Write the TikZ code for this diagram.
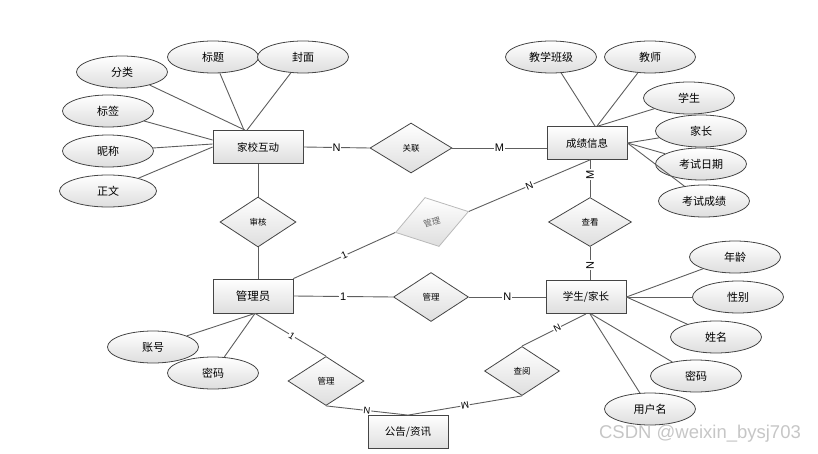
\documentclass[tikz,border=0pt]{standalone}
\usepackage{fontspec}
\newfontfamily\cjk{Noto Sans CJK SC}
\newfontfamily\lab{Liberation Sans}
\usetikzlibrary{shapes.geometric,calc}
\definecolor{linec}{HTML}{5E5E5E}
\definecolor{edgec}{HTML}{454545}
\definecolor{shadec}{HTML}{DEDEDE}
\begin{document}
\begin{tikzpicture}[x=1pt,y=-1pt,
 attr/.style={ellipse,draw=edgec,line width=0.8pt,top color=white,bottom color=shadec,minimum width=91pt,minimum height=32pt,inner sep=0pt,font=\cjk\fontsize{11}{13}\selectfont},
 ent/.style={rectangle,draw=edgec,line width=0.8pt,top color=white,bottom color=shadec,minimum width=80pt,minimum height=33pt,inner sep=0pt,font=\cjk\fontsize{10.5}{12}\selectfont},
 rel/.style={diamond,draw=edgec,line width=0.8pt,top color=white,bottom color=shadec,minimum width=75pt,minimum height=49pt,inner sep=0pt,font=\cjk\fontsize{8.5}{10}\selectfont},
 conn/.style={draw=linec,line width=0.9pt},
 lbl/.style={fill=white,inner sep=0.8pt,font=\lab\fontsize{11}{12}\selectfont,text=black},
 slbl/.style={lbl,font=\lab\fontsize{9.5}{10}\selectfont}
]
\useasboundingbox (0,0) rectangle (818,454);

% entities
\node[ent,minimum width=90pt] (jx) at (258,147) {家校互动};
\node[ent] (cj) at (587,143) {成绩信息};
\node[ent,minimum height=34pt,font=\cjk\fontsize{11.5}{13}\selectfont] (gly) at (253,296) {管理员};
\node[ent] (xs) at (586,297) {学生/家长};
\node[ent] (gg) at (408,432) {公告/资讯};

% attributes of 家校互动
\node[attr] (fl) at (122,72) {分类};
\node[attr] (bt) at (213,57) {标题};
\node[attr] (fm) at (303,57) {封面};
\node[attr] (bq) at (108,111) {标签};
\node[attr] (nc) at (108,151) {昵称};
\node[attr,minimum width=97pt] (zw) at (108,191) {正文};

% attributes of 成绩信息
\node[attr] (bj) at (551,57) {教学班级};
\node[attr] (js) at (650,57) {教师};
\node[attr] (xsh) at (689,98) {学生};
\node[attr] (jz) at (701,131) {家长};
\node[attr] (rq) at (701,164) {考试日期};
\node[attr] (cc) at (704,201) {考试成绩};

% attributes of 学生/家长
\node[attr] (nl) at (735,257) {年龄};
\node[attr] (xb) at (738,297) {性别};
\node[attr] (xm) at (716,337) {姓名};
\node[attr] (mm2) at (696,376) {密码};
\node[attr] (yh) at (650,409) {用户名};

% attributes of 管理员
\node[attr] (zh) at (153,347) {账号};
\node[attr] (mm1) at (213,373) {密码};

% relationships
\node[rel,minimum width=82pt,minimum height=50pt] (gl) at (411,148) {关联};
\node[rel,minimum width=76pt,minimum height=50pt] (shh) at (258,222) {审核};
\node[rel,minimum width=83pt,minimum height=49pt] (ck) at (590,222) {查看};
\node[rel,minimum width=76pt,minimum height=51pt,rotate=16,draw=gray!55,text=gray!80!black] (gm1) at (432,222) {管理};
\node[rel,minimum width=75pt,minimum height=49pt] (gm2) at (431,297) {管理};
\node[rel,minimum width=76pt,minimum height=49pt] (gm3) at (326,381) {管理};
\node[rel,minimum width=75pt,minimum height=49pt] (cy) at (522,371) {查阅};

% attribute connectors
\draw[conn] (fl) -- ($(jx.north)+(-13,0)$);
\draw[conn] (bt) -- ($(jx.north)+(-14,0)$);
\draw[conn] (fm) -- ($(jx.north)+(-11,0)$);
\draw[conn] (bq) -- ($(jx.west)+(0,-7)$);
\draw[conn] (nc) -- ($(jx.west)+(0,-3)$);
\draw[conn] (zw) -- (jx.west);

\draw[conn] (bj) -- ($(cj.north)+(8,0)$);
\draw[conn] (js) -- ($(cj.north)+(10,0)$);
\draw[conn] (xsh) -- ($(cj.north)+(11,0)$);
\draw[conn] (jz) -- (cj.east);
\draw[conn] (rq) -- (cj.east);
\draw[conn] (cc) -- (cj.east);

\draw[conn] (nl) -- (xs.east);
\draw[conn] (xb) -- (xs.east);
\draw[conn] (xm) -- (xs.east);
\draw[conn] (mm2) -- ($(xs.south)+(5,0)$);
\draw[conn] (yh) -- ($(xs.south)+(4,0)$);

\draw[conn] (zh) -- ($(gly.south)+(2,0)$);
\draw[conn] (mm1) -- ($(gly.south)+(2,0)$);

% relationship connectors
\draw[conn] (jx.east) -- node[lbl]{N} (gl.west);
\draw[conn] (gl.east) -- node[lbl]{M} (gl.east -| cj.west);
\draw[conn] (jx.south) -- (shh.north);
\draw[conn] (shh.south) -- (shh.south |- gly.north);
\draw[conn] (cj.south -| ck.north) -- node[lbl,rotate=90,pos=0.4]{M} (ck.north);
\draw[conn] (ck.south) -- node[lbl,rotate=90,pos=0.55]{N} (ck.south |- xs.north);
\draw[conn] (gly.north east) -- node[lbl,sloped,font=\lab\fontsize{10}{11}\selectfont]{1} (gm1.west);
\draw[conn] (gm1.east) -- node[lbl,sloped,pos=0.5,font=\lab\fontsize{10}{11}\selectfont]{N} (cj.south -| ck.north);
\draw[conn] (gly.east) -- node[lbl]{1} (gm2.west);
\draw[conn] (gm2.east) -- node[lbl]{N} (gm2.east -| xs.west);
\draw[conn] ($(gly.south)+(2,0)$) -- node[slbl,sloped,pos=0.52]{1} (gm3.north);
\draw[conn] (gm3.south) -- node[slbl,sloped,pos=0.5]{N} (gg.north);
\draw[conn] (xs.south) -- node[slbl,sloped,pos=0.45]{N} (cy.north);
\draw[conn] (cy.south) -- node[slbl,rotate=190,pos=0.5]{M} (gg.north);

% watermark
\node[font=\lab\fontsize{18.5}{19}\selectfont,text=gray!45] (wm) at (700,434) {CSDN @weixin\_bysj703};
\end{tikzpicture}
\end{document}
